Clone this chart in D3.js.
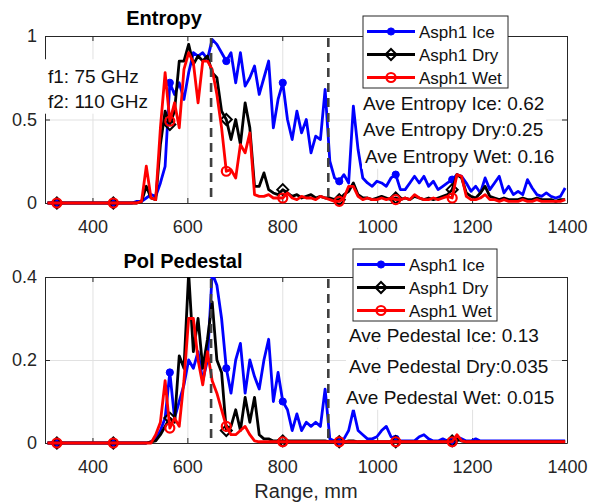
<!doctype html>
<html>
<head>
<meta charset="UTF-8">
<title>Entropy / Pol Pedestal</title>
<script src="https://d3js.org/d3.v7.min.js"></script>
<style>
  body { margin: 0; background: #fff; }
  svg text { font-family: "Liberation Sans", Arial, Helvetica, sans-serif; }
</style>
</head>
<body>
<svg id="chart" width="589" height="504"></svg>
<script>
// sample grid along range, mm
var rangeStart = 305.2, rangeStep = 9.917, nPts = 111;
var range = d3.range(nPts).map(function(i){ return rangeStart + i * rangeStep; });

// Entropy
var entIce = [0,0,0,0,0,0,0,0,0,0, 0,0,0,0,0,0,0,0,0,0.01,
  0.01,0.03,0.05,0.04,0.12,0.22,0.72,0.65,0.72,0.62,
  0.78,0.9,0.88,0.9,0.86,0.98,0.95,0.9,0.85,0.9,
  0.72,0.9,0.7,0.75,0.82,0.65,0.75,0.85,0.45,0.62,
  0.72,0.5,0.38,0.55,0.42,0.5,0.3,0.4,0.38,0.68,
  0.25,0.15,0.13,0.17,0.12,0.58,0.32,0.15,0.12,0.1,
  0.13,0.12,0.1,0.15,0.17,0.08,0.08,0.12,0.16,0.12,
  0.16,0.1,0.13,0.08,0.1,0.12,0.14,0.17,0.16,0.12,
  0.07,0.1,0.06,0.15,0.08,0.12,0.16,0.06,0.1,0.05,
  0.07,0.05,0.14,0.09,0.05,0.04,0.06,0.04,0.03,0.04,0.09];
var entDry = [0,0,0,0,0,0,0,0,0,0, 0,0,0,0,0,0,0,0,0,0,
  0.01,0.1,0.03,0.02,0.35,0.55,0.47,0.55,0.85,0.85,
  0.95,0.83,0.88,0.85,0.88,0.78,0.75,0.55,0.5,0.38,
  0.5,0.35,0.6,0.45,0.1,0.1,0.18,0.08,0.06,0.05,
  0.08,0.06,0.04,0.05,0.03,0.04,0.05,0.03,0.04,0.03,
  0.03,0.02,0.02,0.05,0.07,0.12,0.05,0.03,0.03,0.02,
  0.03,0.04,0.03,0.02,0.03,0.02,0.03,0.02,0.04,0.03,
  0.02,0.03,0.02,0.03,0.04,0.05,0.08,0.17,0.15,0.06,
  0.04,0.03,0.06,0.1,0.04,0.03,0.02,0.03,0.02,0.02,
  0.02,0.03,0.02,0.02,0.03,0.02,0.02,0.02,0.01,0.02,0.02];
var entWet = [0,0,0,0,0,0,0,0,0,0, 0,0,0,0,0,0,0,0,0,0,
  0.01,0.22,0.03,0.02,0.45,0.78,0.49,0.6,0.45,0.8,
  0.9,0.84,0.6,0.85,0.85,0.8,0.65,0.45,0.19,0.2,
  0.15,0.35,0.3,0.42,0.05,0.04,0.04,0.05,0.03,0.03,
  0.03,0.06,0.03,0.02,0.04,0.03,0.03,0.02,0.04,0.03,
  0.02,0.01,0.01,0.03,0.1,0.1,0.04,0.02,0.03,0.02,
  0.02,0.03,0.02,0.03,0.02,0.02,0.03,0.02,0.05,0.03,
  0.02,0.02,0.03,0.02,0.03,0.04,0.03,0.17,0.16,0.04,
  0.02,0.02,0.03,0.05,0.02,0.02,0.01,0.02,0.01,0.01,
  0.01,0.02,0.01,0.01,0.02,0.01,0.01,0.01,0.01,0.01,0.02];

// Pol Pedestal
var pedIce = [0,0,0,0,0,0,0,0,0,0, 0,0,0,0,0,0,0,0,0,0,
  0,0,0.003,0.01,0.03,0.06,0.17,0.06,0.1,0.14,
  0.2,0.18,0.22,0.15,0.2,0.41,0.38,0.3,0.18,0.12,
  0.2,0.24,0.12,0.2,0.16,0.13,0.2,0.25,0.1,0.17,
  0.1,0.08,0.03,0.07,0.03,0.05,0.04,0.05,0.04,0.13,
  0.01,0.005,0.005,0.01,0.03,0.08,0.03,0.02,0.01,0.01,
  0.015,0.03,0.04,0.015,0.01,0.005,0.005,0.005,0.005,0.015,
  0.02,0.01,0.005,0.005,0.01,0.005,0.005,0.015,0.01,0.005,
  0.005,0.01,0.005,0.005,0.005,0.005,0.005,0.005,0.005,0.005,
  0.005,0.005,0.005,0.005,0.005,0.005,0.005,0.005,0.005,0.005,0.005];
var pedDry = [0,0,0,0,0,0,0,0,0,0, 0,0,0,0,0,0,0,0,0,0,
  0,0,0.003,0.005,0.02,0.04,0.06,0.05,0.21,0.18,
  0.41,0.22,0.3,0.18,0.25,0.34,0.2,0.17,0.03,0.04,
  0.08,0.03,0.11,0.05,0.11,0.02,0.01,0.01,0.005,0.005,
  0.005,0.005,0.005,0.005,0.005,0.005,0.005,0.005,0.005,0.005,
  0.003,0.003,0.003,0.003,0.005,0.005,0.003,0.003,0.003,0.003,
  0.003,0.003,0.003,0.003,0.003,0.003,0.003,0.003,0.003,0.003,
  0.003,0.003,0.003,0.003,0.003,0.003,0.005,0.01,0.005,0.003,
  0.003,0.003,0.003,0.003,0.003,0.003,0.003,0.003,0.003,0.003,
  0.003,0.003,0.003,0.003,0.003,0.003,0.003,0.003,0.003,0.003,0.003];
var pedWet = [0,0,0,0,0,0,0,0,0,0, 0,0,0,0,0,0,0,0,0,0,
  0,0,0,0.02,0.05,0.15,0.036,0.06,0.04,0.15,
  0.3,0.3,0.2,0.14,0.22,0.15,0.12,0.08,0.04,0.02,
  0.02,0.03,0.04,0.02,0.005,0.003,0.003,0.003,0.003,0.003,
  0.003,0.003,0.003,0.003,0.003,0.003,0.003,0.003,0.003,0.003,
  0.003,0.003,0.003,0.003,0.003,0.003,0.003,0.003,0.003,0.003,
  0.003,0.003,0.003,0.003,0.003,0.003,0.003,0.003,0.003,0.003,
  0.003,0.003,0.003,0.003,0.003,0.003,0.003,0.02,0.005,0.003,
  0.003,0.003,0.003,0.003,0.003,0.003,0.003,0.003,0.003,0.003,
  0.003,0.003,0.003,0.003,0.003,0.003,0.003,0.003,0.003,0.003,0.003];

var markerIdx = [2,14,26,38,50,62,74,86];
var xTicks = [400,600,800,1000,1200,1400];
var entTicks = [0,0.5,1];
var pedTicks = [0,0.2,0.4];
var dashAt = [650,897];
var seriesNames = ["Asph1 Ice","Asph1 Dry","Asph1 Wet"];
var entLabels = ["Ave Entropy Ice: 0.62","Ave Entropy Dry:0.25","Ave Entropy Wet: 0.16"];
var pedLabels = ["Ave Pedestal Ice: 0.13","Ave Pedestal Dry:0.035","Ave Pedestal Wet: 0.015"];
var freqLabels = ["f1: 75 GHz","f2: 110 GHz"];

var colors = ["#0000ff","#000000","#ff0000"];
var axisColor = "#262626";
var L = 45, R = 567;

var svg = d3.select("#chart");
var x = d3.scaleLinear().domain([300,1400]).range([L,R]);

function drawMarker(sel, k, cx, cy){
  if(k===0){
    sel.append("circle").attr("cx",cx).attr("cy",cy).attr("r",3.6)
      .attr("fill",colors[0]).attr("stroke",colors[0]);
  } else if(k===1){
    sel.append("path").attr("d","M0,-5.5L5.5,0L0,5.5L-5.5,0Z")
      .attr("transform","translate("+cx+","+cy+")")
      .attr("fill","none").attr("stroke","#000").attr("stroke-width",2);
  } else {
    sel.append("circle").attr("cx",cx).attr("cy",cy).attr("r",4.5)
      .attr("fill","none").attr("stroke",colors[2]).attr("stroke-width",2.2);
  }
}

function boxedText(sel, str, tx, ty, size){
  var g = sel.append("g");
  var r = g.append("rect").attr("fill","#fff");
  var t = g.append("text").attr("x",tx).attr("y",ty)
    .attr("font-size",size).attr("fill","#111").text(str);
  var w = t.node().getComputedTextLength();
  r.attr("x",tx-3).attr("y",ty-size*1.25).attr("width",w+6).attr("height",size*1.55);
}

function panel(cfg){
  var y = d3.scaleLinear().domain([0,cfg.ymax]).range([cfg.bottom,cfg.top]);
  var h = cfg.bottom - cfg.top;
  var g = svg.append("g");

  // grid
  g.append("g").attr("transform","translate(0,"+cfg.bottom+")")
    .call(d3.axisBottom(x).tickValues(xTicks).tickSize(-h).tickFormat(""))
    .call(function(s){ s.select(".domain").remove(); s.selectAll("line").attr("stroke","#e1e1e1"); });
  g.append("g").attr("transform","translate("+L+",0)")
    .call(d3.axisLeft(y).tickValues(cfg.ticks).tickSize(-(R-L)).tickFormat(""))
    .call(function(s){ s.select(".domain").remove(); s.selectAll("line").attr("stroke","#e1e1e1"); });

  // axes box with inward ticks
  var ax = [
    [d3.axisBottom(x).tickValues(xTicks).tickSizeInner(-5).tickSizeOuter(0).tickPadding(17).tickFormat(d3.format("d")), "translate(0,"+cfg.bottom+")"],
    [d3.axisTop(x).tickValues(xTicks).tickSizeInner(-5).tickSizeOuter(0).tickFormat(""), "translate(0,"+cfg.top+")"],
    [d3.axisLeft(y).tickValues(cfg.ticks).tickSizeInner(-5).tickSizeOuter(0).tickPadding(8).tickFormat(d3.format("")), "translate("+L+",0)"],
    [d3.axisRight(y).tickValues(cfg.ticks).tickSizeInner(-5).tickSizeOuter(0).tickFormat(""), "translate("+R+",0)"]
  ];
  ax.forEach(function(a){
    g.append("g").attr("transform",a[1]).call(a[0])
      .call(function(s){
        s.select(".domain").attr("stroke",axisColor);
        s.selectAll("line").attr("stroke",axisColor);
        s.selectAll("text").attr("fill",axisColor).attr("font-size",18)
          .attr("font-family","'Liberation Sans', Arial, sans-serif");
      });
  });

  // data
  var clipId = "clip-" + cfg.name;
  svg.append("clipPath").attr("id",clipId).append("rect")
    .attr("x",L).attr("y",cfg.top).attr("width",R-L).attr("height",h+4);
  var line = d3.line().x(function(d,i){ return x(range[i]); }).y(function(d){ return y(d); });
  cfg.series.forEach(function(s,k){
    g.append("path").datum(s).attr("d",line).attr("clip-path","url(#"+clipId+")")
      .attr("fill","none").attr("stroke",colors[k]).attr("stroke-width",2.8)
      .attr("stroke-linejoin","round");
    markerIdx.forEach(function(i){ drawMarker(g, k, x(range[i]), y(s[i])); });
  });

  // dashed markers of range
  dashAt.forEach(function(d){
    g.append("line").attr("x1",x(d)).attr("x2",x(d)).attr("y1",cfg.top+2).attr("y2",cfg.bottom)
      .attr("stroke","#404040").attr("stroke-width",2.6).attr("stroke-dasharray","9,6");
  });

  // title
  svg.append("text").attr("x",cfg.titleX).attr("y",cfg.titleY).attr("text-anchor","middle")
    .attr("font-size",20).attr("font-weight","bold").attr("fill","#000").text(cfg.title);

  // average labels
  cfg.labels.forEach(function(t,k){ boxedText(svg, t, cfg.labelX[k], cfg.labelY[k], 19); });

  // legend
  var lg = svg.append("g");
  lg.append("rect").attr("x",cfg.leg[0]).attr("y",cfg.leg[1]).attr("width",cfg.leg[2]).attr("height",cfg.leg[3])
    .attr("fill","#fff").attr("stroke",axisColor);
  seriesNames.forEach(function(n,k){
    var ry = cfg.leg[1] + 15.5 + k*23;
    var lx = cfg.leg[0];
    lg.append("line").attr("x1",lx+4).attr("x2",lx+52).attr("y1",ry).attr("y2",ry)
      .attr("stroke",colors[k]).attr("stroke-width",2.8);
    drawMarker(lg, k, lx+28, ry);
    lg.append("text").attr("x",lx+56).attr("y",ry+6).attr("font-size",17).attr("fill","#111").text(n);
  });
}

panel({name:"ent", top:36, bottom:203, ymax:1, ticks:entTicks,
  series:[entIce,entDry,entWet], title:"Entropy", titleX:164, titleY:25,
  labels:entLabels, labelX:[363,363,365], labelY:[110,136,163],
  leg:[363,16,145,72]});

panel({name:"ped", top:277, bottom:443, ymax:0.4, ticks:pedTicks,
  series:[pedIce,pedDry,pedWet], title:"Pol Pedestal", titleX:183, titleY:268,
  labels:pedLabels, labelX:[349,349,346], labelY:[342,373,404],
  leg:[353,249,144,72]});

// frequency notes
freqLabels.forEach(function(t,k){ boxedText(svg, t, 48, 83 + k*25, 19); });

// x label
svg.append("text").attr("x",306).attr("y",498).attr("text-anchor","middle")
  .attr("font-size",20).attr("fill",axisColor).text("Range, mm");
</script>
</body>
</html>
